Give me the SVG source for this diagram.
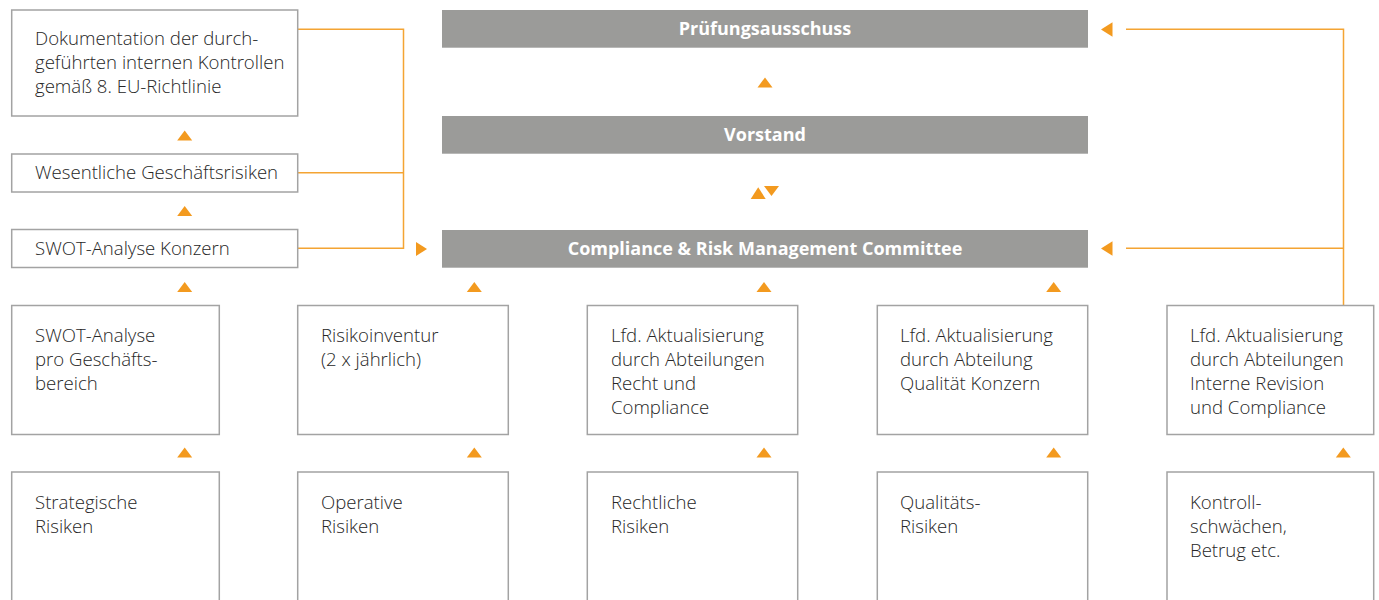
<svg xmlns="http://www.w3.org/2000/svg" width="1379" height="600" viewBox="0 0 1379 600">
<defs>
<style>
.box{fill:#fff;stroke:#a3a3a3;stroke-width:1.5}
.bar{fill:#9b9b99}
.t{font-family:"Open Sans","Liberation Sans",sans-serif;font-weight:300;font-size:18.6px;fill:#262626}
.b{font-family:"Open Sans","Liberation Sans",sans-serif;font-weight:700;font-size:18px;fill:#fff;text-anchor:middle}
.ln{fill:none;stroke:#f4a433;stroke-width:1.5}
.ar{fill:#f39a1f}
</style>
<polygon id="up" class="ar" points="-7.5,5 7.5,5 0,-5"/>
</defs>
<rect width="1379" height="600" fill="#fff"/>

<g id="connectors">
<polyline class="ln" points="298,29.3 403.5,29.3 403.5,248.3 298,248.3"/>
<line class="ln" x1="298" y1="172.7" x2="403.5" y2="172.7"/>
<polygon class="ar" points="416,242 427,249 416,256"/>
<polyline class="ln" points="1126,29.3 1343.5,29.3 1343.5,305"/>
<line class="ln" x1="1126" y1="248.3" x2="1343.5" y2="248.3"/>
<polygon class="ar" points="1112.5,22.3 1101,29.5 1112.5,36.7"/>
<polygon class="ar" points="1112.5,241.3 1101,248.5 1112.5,255.7"/>
<use href="#up" x="184.7" y="135.5"/>
<use href="#up" x="184.7" y="211"/>
<use href="#up" x="765" y="82.5"/>
<polygon class="ar" points="750.7,199 765.7,199 758.2,187.3"/>
<polygon class="ar" points="764,186 779,186 771.5,196"/>
<use href="#up" x="184.7" y="287"/>
<use href="#up" x="474.3" y="287"/>
<use href="#up" x="764" y="287"/>
<use href="#up" x="1053.7" y="287"/>
<use href="#up" x="184.7" y="452.5"/>
<use href="#up" x="474.3" y="452.5"/>
<use href="#up" x="764" y="452.5"/>
<use href="#up" x="1053.7" y="452.5"/>
<use href="#up" x="1343.3" y="452.5"/>
</g>

<g id="pruefungsausschuss">
<rect class="bar" x="442" y="10" width="646" height="37.7"/>
<text class="b" x="765" y="35">Prüfungsausschuss</text>
</g>
<g id="vorstand">
<rect class="bar" x="442" y="116" width="646" height="37.7"/>
<text class="b" x="765" y="141">Vorstand</text>
</g>
<g id="crmc">
<rect class="bar" x="442" y="230" width="646" height="37.7"/>
<text class="b" x="765" y="255">Compliance &amp; Risk Management Committee</text>
</g>

<g id="dokumentation">
<rect class="box" x="11.7" y="10" width="286" height="106"/>
<text class="t" x="35" y="45">Dokumentation der durch-</text>
<text class="t" x="35" y="69">geführten internen Kontrollen</text>
<text class="t" x="35" y="93">gemäß 8. EU-Richtlinie</text>
</g>
<g id="wesentliche">
<rect class="box" x="11.7" y="154" width="286" height="38"/>
<text class="t" x="35" y="179">Wesentliche Geschäftsrisiken</text>
</g>
<g id="swot-konzern">
<rect class="box" x="11.7" y="229.5" width="286" height="38"/>
<text class="t" x="35" y="255">SWOT-Analyse Konzern</text>
</g>

<g id="swot-bereich">
<rect class="box" x="11.7" y="305.5" width="207.6" height="129"/>
<text class="t" x="35" y="342">SWOT-Analyse</text>
<text class="t" x="35" y="366">pro Geschäfts-</text>
<text class="t" x="35" y="390">bereich</text>
</g>
<g id="risikoinventur">
<rect class="box" x="297.7" y="305.5" width="210.6" height="129"/>
<text class="t" x="321" y="342">Risikoinventur</text>
<text class="t" x="321" y="366">(2 x jährlich)</text>
</g>
<g id="recht">
<rect class="box" x="587.3" y="305.5" width="210.4" height="129"/>
<text class="t" x="611" y="342">Lfd. Aktualisierung</text>
<text class="t" x="611" y="366">durch Abteilungen</text>
<text class="t" x="611" y="390">Recht und</text>
<text class="t" x="611" y="414">Compliance</text>
</g>
<g id="qualitaet">
<rect class="box" x="877.3" y="305.5" width="210.4" height="129"/>
<text class="t" x="900" y="342">Lfd. Aktualisierung</text>
<text class="t" x="900" y="366">durch Abteilung</text>
<text class="t" x="900" y="390">Qualität Konzern</text>
</g>
<g id="revision">
<rect class="box" x="1167" y="305.5" width="206.7" height="129"/>
<text class="t" x="1190" y="342">Lfd. Aktualisierung</text>
<text class="t" x="1190" y="366">durch Abteilungen</text>
<text class="t" x="1190" y="390">Interne Revision</text>
<text class="t" x="1190" y="414">und Compliance</text>
</g>

<g id="strategische">
<rect class="box" x="11.7" y="472" width="207.6" height="140"/>
<text class="t" x="35" y="509">Strategische</text>
<text class="t" x="35" y="533">Risiken</text>
</g>
<g id="operative">
<rect class="box" x="297.7" y="472" width="210.6" height="140"/>
<text class="t" x="321" y="509">Operative</text>
<text class="t" x="321" y="533">Risiken</text>
</g>
<g id="rechtliche">
<rect class="box" x="587.3" y="472" width="210.4" height="140"/>
<text class="t" x="611" y="509">Rechtliche</text>
<text class="t" x="611" y="533">Risiken</text>
</g>
<g id="qualitaets">
<rect class="box" x="877.3" y="472" width="210.4" height="140"/>
<text class="t" x="900" y="509">Qualitäts-</text>
<text class="t" x="900" y="533">Risiken</text>
</g>
<g id="kontroll">
<rect class="box" x="1167" y="472" width="206.7" height="140"/>
<text class="t" x="1190" y="509">Kontroll-</text>
<text class="t" x="1190" y="533">schwächen,</text>
<text class="t" x="1190" y="557">Betrug etc.</text>
</g>
</svg>
